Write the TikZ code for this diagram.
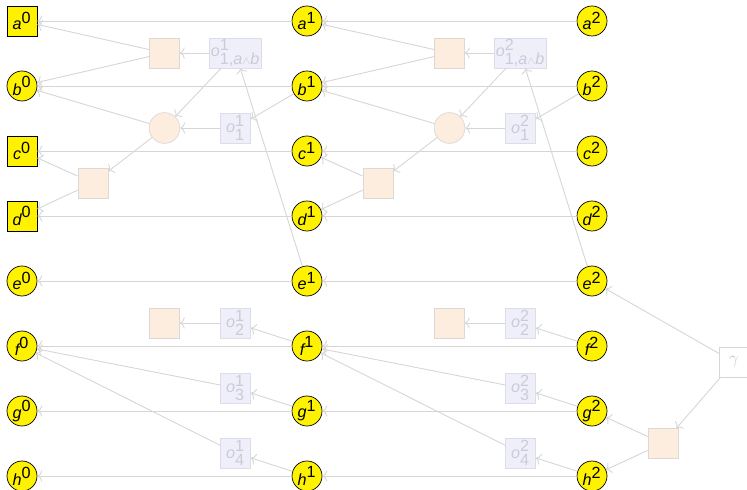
\documentclass[tikz,border=0pt]{standalone}
\usepackage{fontspec}
\setmainfont{Liberation Sans}
\usetikzlibrary{arrows.meta}

\definecolor{varfill}{HTML}{FFF200}
\definecolor{facfill}{HTML}{FDEDDE}
\definecolor{facline}{HTML}{DDD8D3}
\definecolor{obsfill}{HTML}{EFEFFA}
\definecolor{obsline}{HTML}{DCDCEA}
\definecolor{obstext}{HTML}{CACADC}
\definecolor{edgecol}{HTML}{D6D6D6}
\definecolor{hyptext}{HTML}{C4C4C4}

\newcommand{\vr}[2]{$\textit{#1}^{\textrm{#2}}$}
\newcommand{\ob}[2]{$\textit{o}^{\textrm{#1}}_{\textrm{#2}}$}

\tikzset{
	every node/.style={font=\fontsize{11.5}{13}\selectfont},
	var/.style={circle, draw=black, fill=varfill, minimum size=0.75cm, inner sep=0pt, line width=0.5pt},
	obsvar/.style={rectangle, draw=black, fill=varfill, minimum size=0.75cm, inner sep=0pt, line width=0.5pt},
	fac/.style={rectangle, draw=facline, fill=facfill, minimum size=0.75cm, line width=0.5pt},
	facc/.style={circle, draw=facline, fill=facfill, minimum size=0.77cm, line width=0.5pt},
	obs/.style={rectangle, draw=obsline, fill=obsfill, text=obstext, minimum size=0.75cm, inner sep=1pt, line width=0.5pt},
	hyp/.style={rectangle, draw=edgecol, fill=white, text=hyptext, minimum size=0.75cm, line width=0.5pt},
	edge/.style={draw=edgecol, line width=0.65pt, -{To[length=3.5pt,width=8pt]}}
}

\begin{document}
\begin{tikzpicture}[x=0.025cm,y=-0.025cm]
\useasboundingbox (0,0) rectangle (747,490);

% time step 0
\node[obsvar] (a0) at (22,21) {\vr{a}{0}};
\node[var] (b0) at (22,86) {\vr{b}{0}};
\node[obsvar] (c0) at (22,151) {\vr{c}{0}};
\node[obsvar] (d0) at (22,216) {\vr{d}{0}};
\node[var] (e0) at (22,281) {\vr{e}{0}};
\node[var] (f0) at (22,346) {\vr{f}{0}};
\node[var] (g0) at (22,411) {\vr{g}{0}};
\node[var] (h0) at (22,476) {\vr{h}{0}};

% time steps 1 and 2
\foreach \k in {1,2} {
	\pgfmathsetmacro{\x}{285*\k}
	\foreach \v [count=\i from 0] in {a,b,c,d,e,f,g,h}
		\node[var] (\v\k) at ({22+\x},{21+65*\i}) {\vr{\v}{\k}};
	\node[fac] (fab\k) at ({164.5+\x-285},53) {};
	\node[obs, minimum width=1.25cm] (oab\k) at ({235.5+\x-285},53) {$\textit{o}^{\textrm{\k}}_{\textrm{1,}\textit{a}\wedge\textit{b}}$};
	\node[facc] (fb\k) at ({164.5+\x-285},128) {};
	\node[obs] (oa\k) at ({235.5+\x-285},128) {\ob{\k}{1}};
	\node[fac] (fcd\k) at ({93+\x-285},183) {};
	\node[fac] (ff\k) at ({164.5+\x-285},323) {};
	\node[obs] (ob\k) at ({235.5+\x-285},323) {\ob{\k}{2}};
	\node[obs] (oc\k) at ({235.5+\x-285},388) {\ob{\k}{3}};
	\node[obs] (od\k) at ({235.5+\x-285},453) {\ob{\k}{4}};
}

% goal
\node[hyp] (gam) at (734,362) {$\gamma$};
\node[fac] (fgh) at (663,443.5) {};

% connectors
\foreach \v in {a,b,c,d,e,f,g,h} {
	\draw[edge] (\v1) -- (\v0);
	\draw[edge] (\v2) -- (\v1);
}
\foreach \k [evaluate=\k as \p using int(\k-1)] in {1,2} {
	\draw[edge] (fab\k) -- (a\p);
	\draw[edge] (fab\k) -- (b\p);
	\draw[edge] (oab\k) -- (fab\k);
	\draw[edge] (oab\k) -- (fb\k);
	\draw[edge] (fb\k) -- (b\p);
	\draw[edge] (oa\k) -- (fb\k);
	\draw[edge] (b\k) -- (oa\k);
	\draw[edge] (fb\k) -- (fcd\k);
	\draw[edge] (fcd\k) -- (c\p);
	\draw[edge] (fcd\k) -- (d\p);
	\draw[edge] (e\k) -- (oab\k);
	\draw[edge] (f\k) -- (ob\k);
	\draw[edge] (ob\k) -- (ff\k);
	\draw[edge] (g\k) -- (oc\k);
	\draw[edge] (oc\k) -- (f\p);
	\draw[edge] (h\k) -- (od\k);
	\draw[edge] (od\k) -- (f\p);
}
\draw[edge] (gam) -- (e2);
\draw[edge] (gam) -- (fgh);
\draw[edge] (fgh) -- (g2);
\draw[edge] (fgh) -- (h2);
\end{tikzpicture}
\end{document}
